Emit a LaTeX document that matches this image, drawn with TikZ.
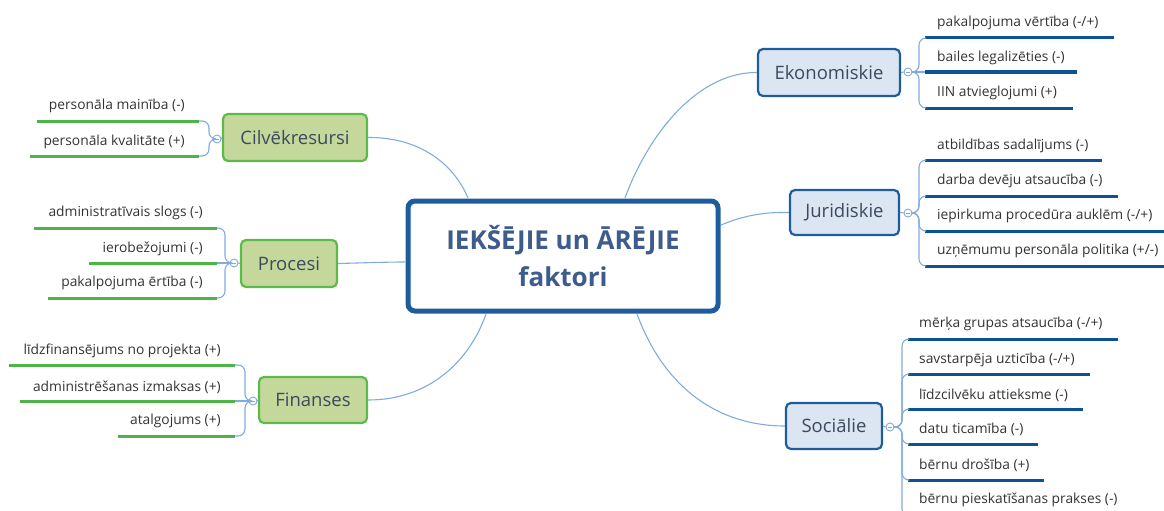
\documentclass[tikz,border=0pt]{standalone}
\usepackage{fontspec}
\setmainfont{Open Sans}
\usetikzlibrary{calc}
\definecolor{leafblue}{HTML}{0B5394}
\definecolor{leafgreen}{HTML}{4DB548}
\definecolor{brcol}{HTML}{82ABDD}
\definecolor{bluefill}{HTML}{DCE6F2}
\definecolor{blueedge}{HTML}{1D5D9E}
\definecolor{greenfill}{HTML}{C4D89C}
\definecolor{greenedge}{HTML}{5DB94A}
\definecolor{txtcol}{HTML}{333333}
\definecolor{boxtxt}{HTML}{3B4A5E}
\definecolor{ctrtxt}{HTML}{3D5B8C}
\begin{document}
\begin{tikzpicture}[x=1pt,y=-1pt,
  ctrbox/.style={draw=blueedge,line width=5pt,rounded corners=7pt,fill=white,
    minimum width=310pt,minimum height=110pt,align=center,text=ctrtxt,
    font=\fontsize{26}{37}\selectfont\bfseries},
  bluebox/.style={draw=blueedge,line width=2.2pt,rounded corners=5pt,fill=bluefill,
    text=boxtxt,font=\fontsize{18.5}{20}\selectfont,inner sep=0pt},
  greenbox/.style={draw=greenedge,line width=2.2pt,rounded corners=5pt,fill=greenfill,
    text=boxtxt,font=\fontsize{18.5}{20}\selectfont,inner sep=0pt},
  coll/.style={circle,draw=brcol,line width=0.9pt,fill=white,minimum size=8pt,inner sep=0pt,
    path picture={\draw[brcol,line width=0.8pt] ($(path picture bounding box.center)+(-2.2pt,0)$) -- ($(path picture bounding box.center)+(2.2pt,0)$);}},
  main/.style={draw=brcol,line width=1.1pt},
  brk/.style={draw=brcol,line width=1.1pt,rounded corners=7pt},
  gl/.style={draw=leafgreen,line width=3pt},
  bl/.style={draw=leafblue,line width=3pt},
  ltxt/.style={text=txtcol,font=\fontsize{13.8}{15}\selectfont,inner sep=0pt},
]
\useasboundingbox (0,0) rectangle (1164,511);
\clip (0,0) rectangle (1164,511);

% ---------- central node
\node[ctrbox] (ctr) at (563,256) {IEKŠĒJIE un ĀRĒJIE\\faktori};

% ---------- main branches
\node[greenbox,minimum width=144pt,minimum height=47pt] (cil) at (295,137.5) {Cilvēkresursi};
\node[greenbox,minimum width=96pt,minimum height=47pt] (pro) at (289,263.5) {Procesi};
\node[greenbox,minimum width=108pt,minimum height=46pt] (fin) at (313,400) {Finanses};
\node[bluebox,minimum width=142pt,minimum height=47pt] (eko) at (829,72.5) {Ekonomiskie};
\node[bluebox,minimum width=109pt,minimum height=45pt] (jur) at (844.5,212.5) {Juridiskie};
\node[bluebox,minimum width=96pt,minimum height=46pt] (soc) at (834,426) {Sociālie};

% attach points on the central node
\coordinate (cA) at (468,198);
\coordinate (cB) at (405,262);
\coordinate (cC) at (486,314);
\coordinate (cD) at (625,198);
\coordinate (cE) at (721,225);
\coordinate (cF) at (637,314);

\draw[main] (cil.east) .. controls (415,137) and (452,160) .. (cA);
\draw[main] (pro.east) .. controls (360,263) and (385,262) .. (cB);
\draw[main] (fin.east) .. controls (430,400) and (470,360) .. (cC);
\draw[main] (cD) .. controls (650,130) and (700,72) .. (eko.west);
\draw[main] (cE) .. controls (745,215) and (765,212) .. (jur.west);
\draw[main] (cF) .. controls (665,390) and (720,426) .. (soc.west);

% ---------- collapse circles
\node[coll] (kcil) at (217,139) {};
\node[coll] (kpro) at (234,263) {};
\node[coll] (kfin) at (253,401) {};
\node[coll] (keko) at (908,72) {};
\node[coll] (kjur) at (908,213) {};
\node[coll] (ksoc) at (890,427) {};
\draw[main] (cil.west) -- (kcil.east);
\draw[main] (pro.west) -- (kpro.east);
\draw[main] (fin.west) -- (kfin.east);
\draw[main] (eko.east) -- (keko.west);
\draw[main] (jur.east) -- (kjur.west);
\draw[main] (soc.east) -- (ksoc.west);

% ---------- Cilvēkresursi leaves
\coordinate (a1e) at (199,121); \coordinate (a1s) at (37,121);
\coordinate (a2e) at (199,156); \coordinate (a2s) at (30,156);
\node[ltxt,anchor=east] (ta1) at (185,106) {personāla mainība (-)};
\node[ltxt,anchor=east] (ta2) at (185,142) {personāla kvalitāte (+)};
\draw[gl] (a1s) -- (a1e);
\draw[gl] (a2s) -- (a2e);
\draw[brk] (kcil.west) -- (209,139) |- (a1e);
\draw[brk] (kcil.west) -- (209,139) |- (a2e);

% ---------- Procesi leaves
\coordinate (b1e) at (217,228); \coordinate (b1s) at (34,228);
\coordinate (b2e) at (217,263); \coordinate (b2s) at (89,263);
\coordinate (b3e) at (217,298); \coordinate (b3s) at (48,298);
\node[ltxt,anchor=east] (tb1) at (203,213) {administratīvais slogs (-)};
\node[ltxt,anchor=east] (tb2) at (203,249) {ierobežojumi (-)};
\node[ltxt,anchor=east] (tb3) at (203,283) {pakalpojuma ērtība (-)};
\draw[gl] (b1s) -- (b1e);
\draw[gl] (b2s) -- (b2e);
\draw[gl] (b3s) -- (b3e);
\draw[brk] (kpro.west) -- (225,263) |- (b1e);
\draw[main] (kpro.west) -- (b2e);
\draw[brk] (kpro.west) -- (225,263) |- (b3e);

% ---------- Finanses leaves
\coordinate (c1e) at (235,365); \coordinate (c1s) at (9,365);
\coordinate (c2e) at (235,401); \coordinate (c2s) at (20,401);
\coordinate (c3e) at (235,436); \coordinate (c3s) at (118,436);
\node[ltxt,anchor=east] (tc1) at (221,351) {līdzfinansējums no projekta (+)};
\node[ltxt,anchor=east] (tc2) at (221,387) {administrēšanas izmaksas (+)};
\node[ltxt,anchor=east] (tc3) at (221,421) {atalgojums (+)};
\draw[gl] (c1s) -- (c1e);
\draw[gl] (c2s) -- (c2e);
\draw[gl] (c3s) -- (c3e);
\draw[brk] (kfin.west) -- (245,401) |- (c1e);
\draw[main] (kfin.west) -- (c2e);
\draw[brk] (kfin.west) -- (245,401) |- (c3e);

% ---------- Ekonomiskie leaves
\coordinate (d1s) at (925,38);  \coordinate (d1e) at (1114,38);
\coordinate (d2s) at (925,72);  \coordinate (d2e) at (1077,72);
\coordinate (d3s) at (925,108); \coordinate (d3e) at (1073,108);
\node[ltxt,anchor=west] (td1) at (937,23) {pakalpojuma vērtība (-/+)};
\node[ltxt,anchor=west] (td2) at (937,58) {bailes legalizēties (-)};
\node[ltxt,anchor=west] (td3) at (937,93) {IIN atvieglojumi (+)};
\draw[bl] (d1s) -- (d1e);
\draw[bl] (d2s) -- (d2e);
\draw[bl] (d3s) -- (d3e);
\draw[brk] (keko.east) -- (919,72) |- (d1s);
\draw[main] (keko.east) -- (d2s);
\draw[brk] (keko.east) -- (919,72) |- (d3s);

% ---------- Juridiskie leaves
\coordinate (e1s) at (925,160); \coordinate (e1e) at (1102,160);
\coordinate (e2s) at (925,196); \coordinate (e2e) at (1118,196);
\coordinate (e3s) at (925,231); \coordinate (e3e) at (1164,231);
\coordinate (e4s) at (925,266); \coordinate (e4e) at (1164,266);
\node[ltxt,anchor=west] (te1) at (937,146) {atbildības sadalījums (-)};
\node[ltxt,anchor=west] (te2) at (937,181) {darba devēju atsaucība (-)};
\node[ltxt,anchor=west] (te3) at (937,216) {iepirkuma procedūra auklēm (-/+)};
\node[ltxt,anchor=west] (te4) at (937,251) {uzņēmumu personāla politika (+/-)};
\draw[bl] (e1s) -- (e1e);
\draw[bl] (e2s) -- (e2e);
\draw[bl] (e3s) -- (e3e);
\draw[bl] (e4s) -- (e4e);
\draw[brk] (kjur.east) -- (919,213) |- (e1s);
\draw[brk] (kjur.east) -- (919,213) |- (e2s);
\draw[brk] (kjur.east) -- (919,213) |- (e3s);
\draw[brk] (kjur.east) -- (919,213) |- (e4s);

% ---------- Sociālie leaves
\coordinate (f1s) at (908,339); \coordinate (f1e) at (1118,339);
\coordinate (f2s) at (908,374); \coordinate (f2e) at (1090,374);
\coordinate (f3s) at (908,409); \coordinate (f3e) at (1083,409);
\coordinate (f4s) at (908,444); \coordinate (f4e) at (1038,444);
\coordinate (f5s) at (908,480); \coordinate (f5e) at (1044,480);
\coordinate (f6s) at (908,516); \coordinate (f6e) at (1120,516);
\node[ltxt,anchor=west] (tf1) at (919,324) {mērķa grupas atsaucība (-/+)};
\node[ltxt,anchor=west] (tf2) at (919,360) {savstarpēja uzticība (-/+)};
\node[ltxt,anchor=west] (tf3) at (919,395) {līdzcilvēku attieksme (-)};
\node[ltxt,anchor=west] (tf4) at (919,429) {datu ticamība (-)};
\node[ltxt,anchor=west] (tf5) at (919,465) {bērnu drošība (+)};
\node[ltxt,anchor=west] (tf6) at (919,500) {bērnu pieskatīšanas prakses (-)};
\draw[bl] (f1s) -- (f1e);
\draw[bl] (f2s) -- (f2e);
\draw[bl] (f3s) -- (f3e);
\draw[bl] (f4s) -- (f4e);
\draw[bl] (f5s) -- (f5e);
\draw[bl] (f6s) -- (f6e);
\foreach \f in {f1s,f2s,f3s,f4s,f5s,f6s}
  \draw[brk] (ksoc.east) -- (902,427) |- (\f);
\end{tikzpicture}
\end{document}
